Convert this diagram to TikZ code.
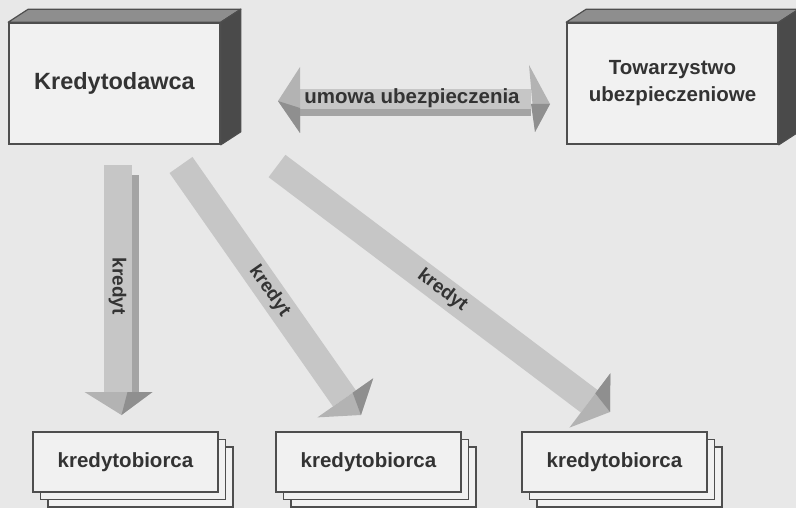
\documentclass[tikz,border=0pt]{standalone}
\usepackage{fontspec}
\setmainfont{Liberation Sans}
\usetikzlibrary{calc}

\definecolor{page}{HTML}{E8E8E8}
\definecolor{face}{HTML}{F1F1F1}
\definecolor{ink}{HTML}{333333}
\definecolor{edge}{HTML}{4E4E4E}
\definecolor{topface}{HTML}{8E8E8E}
\definecolor{sideface}{HTML}{4A4A4A}
\definecolor{shaft}{HTML}{C6C6C6}
\definecolor{shaftside}{HTML}{A4A4A4}
\definecolor{headlight}{HTML}{B3B3B3}
\definecolor{headdark}{HTML}{8F8F8F}

\tikzset{
  partybox/.style={draw=edge, line width=1.6pt, fill=face,
    minimum width=211pt, minimum height=121pt, inner sep=0pt,
    align=center, text=ink, font=\fontsize{20.5}{27}\selectfont\bfseries},
  borrower/.style={draw=edge, line width=1.6pt, fill=face,
    minimum width=185pt, minimum height=60pt, inner sep=0pt,
    text=ink, font=\fontsize{20.5}{24}\selectfont\bfseries},
  arrowlabel/.style={text=ink, font=\fontsize{19}{22}\selectfont\bfseries,
    transform shape, inner sep=0pt},
  boxface/.style={draw=edge, line width=1.2pt, line join=round},
}

% block arrow "kredyt": start point, angle, length to tip, label distance
\newcommand\creditarrow[4]{%
  \begin{scope}[shift={(#1)}, rotate=#2]
    \fill[shaft] (0,-14) rectangle (#3-23,14);
    \fill[headlight] (#3-23,-33) -- (#3-23,35) -- (#3,4) -- cycle;
    \fill[headdark] (#3-23,10) -- (#3-23,35) -- (#3,4) -- cycle;
    \node[arrowlabel] at (#4,0) {kredyt};
  \end{scope}}

\begin{document}
\begin{tikzpicture}[x=1pt,y=1pt]
  \fill[page] (0,0) rectangle (796,-508);
  \clip (0,0) rectangle (796,-508);

  % lender, drawn as a 3D block
  \node[partybox, font=\fontsize{23.5}{28}\selectfont\bfseries]
    (lender) at (114.5,-83.5) {Kredytodawca};
  \filldraw[boxface, fill=topface] (lender.north west) -- ++(20,13)
    -- ([shift={(20,13)}]lender.north east) -- (lender.north east) -- cycle;
  \filldraw[boxface, fill=sideface] (lender.north east) -- ++(20,13)
    -- ([shift={(20,13)}]lender.south east) -- (lender.south east) -- cycle;

  % insurer, drawn as a 3D block
  \node[partybox] (insurer) at (672.5,-83.5) {Towarzystwo\\ubezpieczeniowe};
  \filldraw[boxface, fill=topface] (insurer.north west) -- ++(20,13)
    -- ([shift={(20,13)}]insurer.north east) -- (insurer.north east) -- cycle;
  \filldraw[boxface, fill=sideface] (insurer.north east) -- ++(20,13)
    -- ([shift={(20,13)}]insurer.south east) -- (insurer.south east) -- cycle;

  % two-way arrow: insurance contract
  \coordinate (dealL) at (278,-101);
  \coordinate (dealR) at (550,-104);
  \fill[shaft] (298,-89) rectangle (531,-115);
  \fill[shaftside] (298,-109) rectangle (531,-116);
  \fill[headlight] (dealL) -- (300,-67) -- (300,-133) -- cycle;
  \fill[headdark] (dealL) -- (300,-108) -- (300,-133) -- cycle;
  \fill[headlight] (dealR) -- (529,-65) -- (535,-132) -- cycle;
  \fill[headdark] (dealR) -- (531,-104) -- (535,-132) -- cycle;
  \node[text=ink, font=\fontsize{20.5}{24}\selectfont\bfseries]
    (deal) at (412,-98) {umowa ubezpieczenia};

  % borrowers, each a stack of three cards
  \foreach \cx/\nm in {125.5/b1, 368.5/b2, 614.5/b3} {
    \node[borrower] at (\cx+15,-477) {};
    \node[borrower] at (\cx+7.5,-469.5) {};
    \node[borrower] (\nm) at (\cx,-462) {kredytobiorca};
  }

  % credit flows from the lender to the borrowers
  \coordinate (c0) at (117.5,-165);
  \coordinate (c1) at (181,-165);
  \coordinate (c2) at (277,-166);
  \creditarrow{c0}{-90}{250}{121}
  \begin{scope}[shift={(c0)}, rotate=-90]
    \fill[shaftside] (10,14) rectangle (227,21);
  \end{scope}
  \creditarrow{c1}{-55}{308}{154}
  \creditarrow{c2}{-37}{414}{207}
\end{tikzpicture}
\end{document}
